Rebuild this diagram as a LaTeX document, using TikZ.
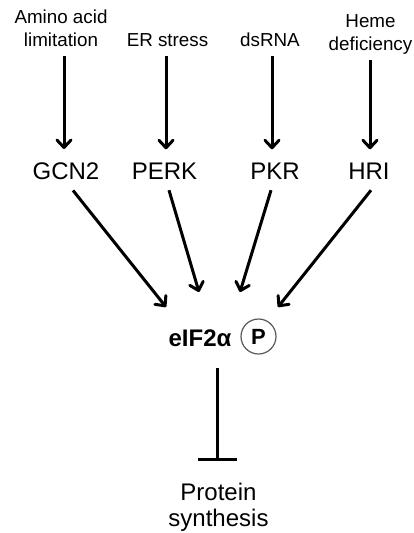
\documentclass[tikz,border=0pt]{standalone}
\usepackage{fontspec}
\setmainfont{Liberation Sans}
\usetikzlibrary{arrows.meta}
\begin{document}
\begin{tikzpicture}[x=1pt,y=-1pt,
  cue/.style={font=\fontsize{18.8}{23.5}\selectfont, align=center, inner sep=0pt, anchor=base},
  kinase/.style={font=\fontsize{24}{26}\selectfont, inner sep=0pt, anchor=base},
  arr/.style={line width=3pt, -{Straight Barb[length=7.5pt,width=14pt,line cap=round,line join=round]}},
  inhib/.style={line width=3pt, -{Bar[width=39pt]}},
  phos/.style={circle, draw=black!65, line width=1.2pt, minimum size=35pt, inner sep=0pt,
               font=\bfseries\fontsize{22}{24}\selectfont}
]
\useasboundingbox (0,0) rectangle (414,533);

% stress signals (base = baseline of the last line)
\node[cue] (aa)   at (61,46.5)    {Amino acid\\limitation};
\node[cue] (er)   at (167.5,46.5) {ER stress};
\node[cue] (ds)   at (270,46.5)   {dsRNA};
\node[cue, font=\fontsize{18.8}{23}\selectfont] (heme) at (370.5,50) {Heme\\deficiency};

% eIF2alpha kinases
\node[kinase] (gcn)  at (66,179)    {GCN2};
\node[kinase] (perk) at (164.5,179) {PERK};
\node[kinase] (pkr)  at (275,179)   {PKR};
\node[kinase] (hri)  at (369,179)   {HRI};

% phosphorylated eIF2alpha
\node[kinase, font=\bfseries\fontsize{24}{26}\selectfont] (eif) at (200,346) {eIF2α};
\node[phos] (p) at (258.5,336.5) {P};

% outcome
\node[kinase, align=center, font=\fontsize{24}{26}\selectfont] (prot) at (218.5,526) {Protein\\synthesis};

% signal -> kinase
\draw[arr] ([xshift=-2pt,yshift=-9.5pt]gcn.north |- aa.base) -- ([xshift=-2pt,yshift=13pt]gcn.north);
\draw[arr] ([xshift=1.5pt,yshift=-9.5pt]perk.north |- er.base) -- ([xshift=1.5pt,yshift=13pt]perk.north);
\draw[arr] ([xshift=-3pt,yshift=-9.5pt]pkr.north |- ds.base) -- ([xshift=-3pt,yshift=13pt]pkr.north);
\draw[arr] ([xshift=1pt,yshift=-10pt]hri.north |- heme.base) -- ([xshift=1pt,yshift=13pt]hri.north);

% kinase -> eIF2alpha
\coordinate (t1) at (166,307);
\coordinate (t2) at (199,292);
\coordinate (t3) at (240,292);
\coordinate (t4) at (278,307);
\draw[arr] ([xshift=7pt,yshift=-11pt]gcn.south) -- (t1);
\draw[arr] ([xshift=4.5pt,yshift=-11pt]perk.south) -- (t2);
\draw[arr] ([xshift=-4pt,yshift=-11pt]pkr.south) -- (t3);
\draw[arr] ([xshift=2pt,yshift=-11pt]hri.south) -- (t4);

% inhibition of translation
\draw[inhib] ([xshift=17pt,yshift=-22pt]eif.south) -- ([xshift=-1.5pt,yshift=21.5pt]prot.north);
\end{tikzpicture}
\end{document}
